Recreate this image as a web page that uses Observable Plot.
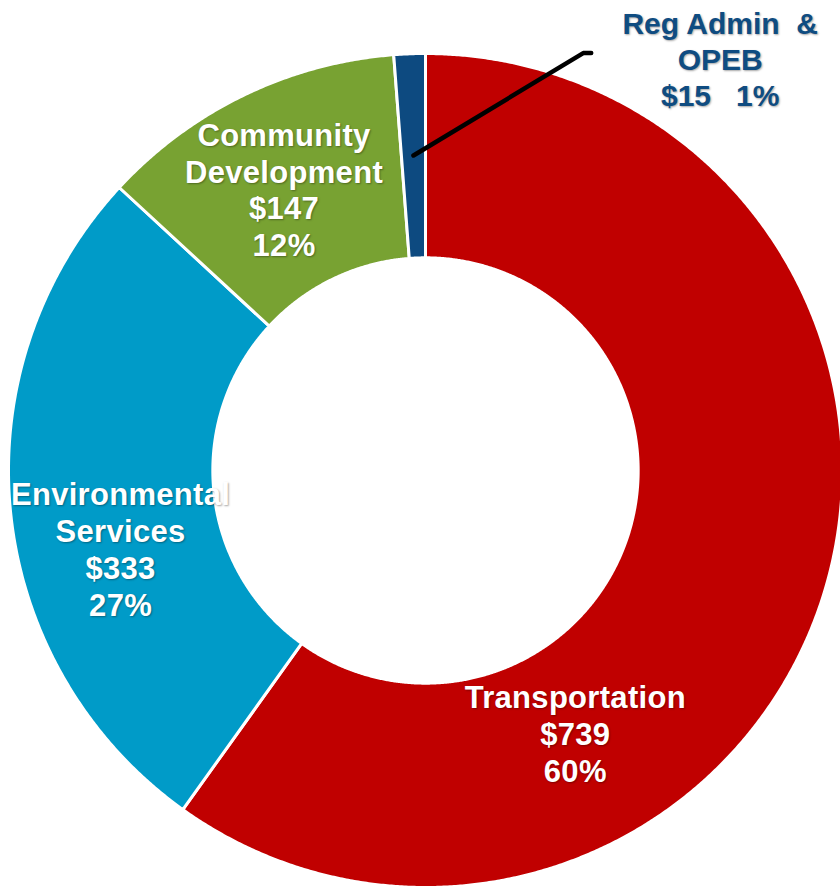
<!DOCTYPE html>
<html>
<head>
<meta charset="utf-8">
<script src="https://cdn.jsdelivr.net/npm/d3@7"></script>
<script src="https://cdn.jsdelivr.net/npm/@observablehq/plot@0.6"></script>
<style>
  html, body { margin: 0; padding: 0; background: #fff; }
  #chart svg { display: block; }
  #chart .shadowed text { text-shadow: 1px 1px 2px rgba(0,0,0,0.35); }
  #chart .inside text { letter-spacing: 0.3px; }
</style>
</head>
<body>
<div id="chart"></div>
<script>
// ---- data ----
const categories = ["Transportation", "Environmental Services", "Community Development", "Reg Admin & OPEB"];
const values = [739, 333, 147, 15];
const percents = [60, 27, 12, 1];
const labelTexts = [
  "Transportation\n$739\n60%",
  "Environmental\nServices\n$333\n27%",
  "Community\nDevelopment\n$147\n12%",
  "Reg Admin  &\nOPEB\n$15   1%"
];
const colors = ["#C00000", "#009BC8", "#78A232", "#0D4A80"];
// label layout (polar: degrees clockwise from 12 o'clock, radius as fraction of outer radius)
const labelAngles = [150.3, 255.6, 333.3, 35.6];
const labelRadii = [0.725, 0.755, 0.755, 1.214];

// ---- layout ----
const W = 840, H = 886, CX = 425, CY = 470, R = 417, INNER = 0.51;
const rad = (deg) => deg * Math.PI / 180;
const polar = (a, r) => ({x: r * Math.sin(a), y: r * Math.cos(a)});

const arcs = d3.pie().sort(null).value(d => d)(values);

const slicePts = [];
arcs.forEach((a, i) => {
  const n = Math.max(2, Math.ceil((a.endAngle - a.startAngle) / 0.005));
  for (let k = 0; k <= n; k++) {
    const t = a.startAngle + (a.endAngle - a.startAngle) * k / n;
    slicePts.push({cat: categories[i], ...polar(t, 1)});
  }
  for (let k = n; k >= 0; k--) {
    const t = a.startAngle + (a.endAngle - a.startAngle) * k / n;
    slicePts.push({cat: categories[i], ...polar(t, INNER)});
  }
});

const labels = categories.map((c, i) => ({
  cat: c,
  text: labelTexts[i],
  outside: labelRadii[i] > 1,
  ...polar(rad(labelAngles[i]), labelRadii[i])
}));

// leader line for the small slice
const small = arcs[3];
const mid = (small.startAngle + small.endAngle) / 2;
const p0 = polar(mid, 0.756);
const p1 = polar(rad(20.7), 1.07);
const leader = [p0, p1, {x: p1.x + 8 / R, y: p1.y}];

const chart = Plot.plot({
  width: W,
  height: H,
  margin: 0,
  x: {domain: [-CX / R, (W - CX) / R], axis: null},
  y: {domain: [-(H - CY) / R, CY / R], axis: null},
  color: {domain: categories, range: colors},
  marks: [
    Plot.line(slicePts, {x: "x", y: "y", z: "cat", fill: "cat", stroke: "white", strokeWidth: 3, curve: "linear-closed"}),
    Plot.line(leader, {x: "x", y: "y", stroke: "black", strokeWidth: 4.5, strokeLinejoin: "miter"}),
    Plot.text(labels.filter(d => !d.outside), {
      x: "x", y: "y", text: "text", fill: "white",
      fontSize: 31, fontWeight: "bold", fontFamily: "Liberation Sans, Arial, sans-serif",
      lineHeight: 1.19, lineAnchor: "middle", className: "shadowed inside"
    }),
    Plot.text(labels.filter(d => d.outside), {
      x: "x", y: "y", text: "text", fill: "#0F4C81",
      fontSize: 30, fontWeight: "bold", fontFamily: "Liberation Sans, Arial, sans-serif",
      lineHeight: 1.2, lineAnchor: "middle", className: "shadowed"
    })
  ]
});
document.getElementById("chart").appendChild(chart);
</script>
</body>
</html>
